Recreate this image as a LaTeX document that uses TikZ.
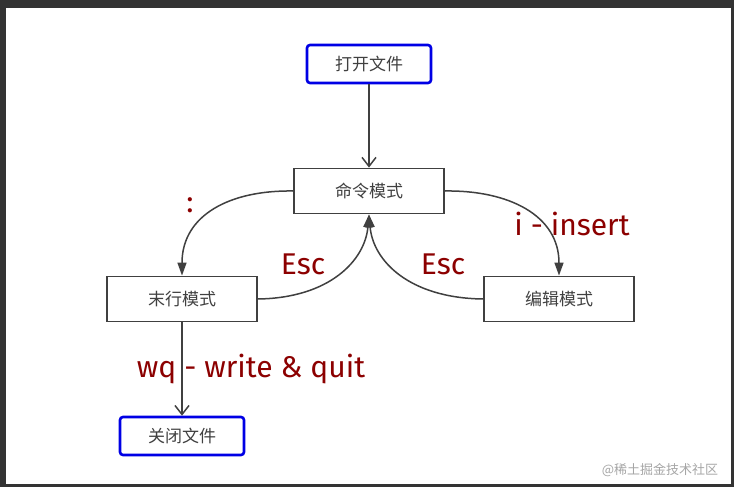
\documentclass[tikz,border=0pt]{standalone}
\usepackage{fontspec}
\newfontfamily\cjk{Noto Sans CJK SC}
\newfontfamily\lab{Fira Sans}
\usetikzlibrary{arrows.meta}
\begin{document}
\begin{tikzpicture}[x=1pt,y=-1pt,
  box/.style={draw=black!75,line width=1.8pt,fill=white,minimum width=150pt,minimum height=45pt,font=\cjk\fontsize{17}{19}\selectfont,text=black!75},
  fbox/.style={draw=blue!90!black,line width=2.6pt,rounded corners=3pt,fill=white,minimum width=124pt,minimum height=38pt,font=\cjk\fontsize{17}{19}\selectfont,text=black!75},
  con/.style={draw=black!75,line width=1.5pt},
  lbl/.style={text=red!55!black,font=\lab\fontsize{30}{34}\selectfont}]
\fill[black!80] (0,0) rectangle (734,487);
\fill[white] (6,8) rectangle (731,484);
\useasboundingbox (0,0) rectangle (734,487);
\node[fbox] (open) at (369,64) {打开文件};
\node[box] (cmd) at (369,191) {命令模式};
\node[box] (last) at (182,299) {末行模式};
\node[box] (edit) at (559,299) {编辑模式};
\node[fbox] (close) at (182,436) {关闭文件};
\draw[con,-{Straight Barb[length=9pt,width=14pt]}] (open) -- (cmd);
\draw[con,-{Triangle[length=13pt,width=9pt]}] (cmd.west) .. controls (230,190) and (182,215) .. (last.north);
\draw[con,-{Triangle[length=13pt,width=9pt]}] (cmd.east) .. controls (508,190) and (559,215) .. (edit.north);
\draw[con,-{Triangle[length=13pt,width=9pt]}] (last.east) .. controls (330,298) and (365,260) .. (cmd.south);
\draw[con,-{Triangle[length=13pt,width=9pt]}] (edit.west) .. controls (408,298) and (373,260) .. (cmd.south);
\draw[con,-{Straight Barb[length=9pt,width=14pt]}] (last) -- (close);
\node[lbl] (l1) at (190,205) {:};
\node[lbl] (l2) at (572,224) {i - insert};
\node[lbl] (l3) at (303,264) {Esc};
\node[lbl] (l4) at (443,264) {Esc};
\node[lbl] (l5) at (251,369) {wq - write \& quit};
\node[text=black!35,font=\cjk\fontsize{13}{15}\selectfont] (wm) at (660,470) {@稀土掘金技术社区};
\end{tikzpicture}
\end{document}
